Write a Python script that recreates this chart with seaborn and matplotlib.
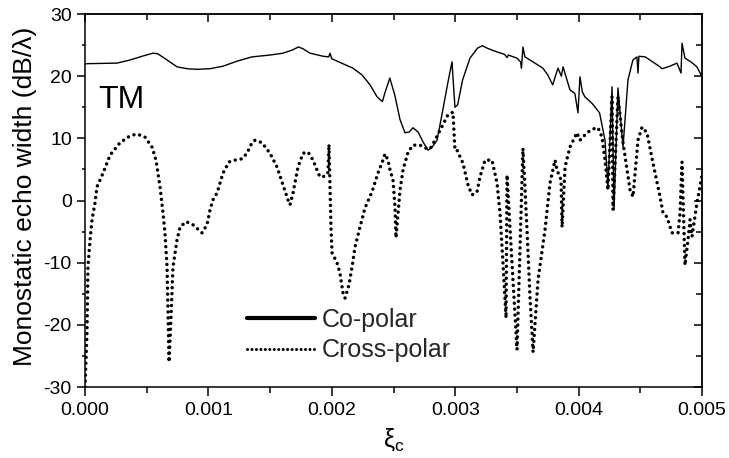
import matplotlib
matplotlib.use("Agg")
import matplotlib.pyplot as plt
import numpy as np
import pandas as pd
import seaborn as sns
from matplotlib.lines import Line2D
from matplotlib.ticker import MultipleLocator, FormatStrFormatter

# ---- data (xi_c, dB/lambda) ----
co_x = [0.0e-3, 0.26e-3, 0.365e-3, 0.462e-3, 0.551e-3, 0.59e-3, 0.665e-3, 0.746e-3,
        0.827e-3, 0.908e-3, 1.013e-3, 1.118e-3, 1.23e-3, 1.353e-3, 1.50e-3, 1.605e-3,
        1.68e-3, 1.73e-3, 1.767e-3, 1.823e-3, 1.93e-3, 1.975e-3, 1.985e-3, 2.00e-3,
        2.09e-3, 2.17e-3, 2.245e-3, 2.31e-3, 2.366e-3, 2.41e-3, 2.43e-3, 2.47e-3,
        2.51e-3, 2.553e-3, 2.593e-3, 2.626e-3, 2.658e-3, 2.70e-3, 2.74e-3, 2.78e-3,
        2.81e-3, 2.853e-3, 2.90e-3, 2.94e-3, 2.974e-3, 2.998e-3, 3.02e-3, 3.06e-3,
        3.12e-3, 3.18e-3, 3.22e-3, 3.26e-3, 3.31e-3, 3.40e-3, 3.42e-3, 3.43e-3,
        3.50e-3, 3.53e-3, 3.537e-3, 3.549e-3, 3.565e-3, 3.63e-3, 3.71e-3, 3.75e-3,
        3.79e-3, 3.82e-3, 3.833e-3, 3.86e-3, 3.874e-3, 3.93e-3, 3.97e-3, 3.995e-3,
        4.011e-3, 4.03e-3, 4.05e-3, 4.11e-3, 4.17e-3, 4.214e-3, 4.238e-3, 4.271e-3,
        4.287e-3, 4.319e-3, 4.36e-3, 4.40e-3, 4.44e-3, 4.473e-3, 4.481e-3, 4.489e-3,
        4.54e-3, 4.60e-3, 4.66e-3, 4.676e-3, 4.74e-3, 4.797e-3, 4.830e-3, 4.838e-3,
        4.862e-3, 4.91e-3, 4.959e-3, 5.0e-3]
co_y = [22.0, 22.1, 22.6, 23.2, 23.7, 23.6, 22.6, 21.5,
        21.2, 21.1, 21.2, 21.6, 22.4, 23.1, 23.4, 23.7,
        24.2, 24.7, 24.4, 23.7, 23.2, 23.1, 23.7, 22.8,
        22.0, 21.3, 20.2, 18.6, 16.7, 15.9, 17.3, 19.7,
        17.0, 13.0, 10.9, 11.0, 11.7, 11.0, 9.4, 8.1,
        8.5, 9.7, 14.6, 18.9, 22.3, 15.0, 15.4, 19.4,
        22.9, 24.5, 24.9, 24.5, 24.1, 23.5, 23.0, 23.4,
        22.9, 22.3, 21.3, 24.7, 23.1, 22.3, 21.3, 20.2,
        18.6, 20.5, 21.3, 20.0, 21.5, 17.8, 17.2, 14.1,
        19.9, 17.5, 16.7, 15.6, 14.1, 9.7, 2.2, 18.3,
        -1.5, 18.1, 8.6, 19.4, 22.6, 23.1, 20.5, 23.2,
        23.1, 22.3, 21.5, 21.2, 21.6, 22.1, 20.5, 25.3,
        22.9, 22.3, 21.5, 19.9]

cross_x = [0.0e-3, 0.016e-3, 0.024e-3, 0.041e-3, 0.057e-3, 0.081e-3, 0.097e-3, 0.146e-3,
           0.203e-3, 0.284e-3, 0.365e-3, 0.421e-3, 0.486e-3, 0.543e-3, 0.575e-3, 0.608e-3,
           0.632e-3, 0.648e-3, 0.665e-3, 0.673e-3, 0.681e-3, 0.697e-3, 0.713e-3, 0.746e-3,
           0.770e-3, 0.818e-3, 0.875e-3, 0.948e-3, 0.989e-3, 1.013e-3, 1.037e-3, 1.070e-3,
           1.118e-3, 1.167e-3, 1.216e-3, 1.272e-3, 1.313e-3, 1.353e-3, 1.378e-3, 1.434e-3,
           1.499e-3, 1.556e-3, 1.605e-3, 1.645e-3, 1.661e-3, 1.686e-3, 1.726e-3, 1.767e-3,
           1.807e-3, 1.848e-3, 1.880e-3, 1.904e-3, 1.945e-3, 1.969e-3, 1.977e-3, 1.994e-3,
           2.002e-3, 2.042e-3, 2.066e-3, 2.091e-3, 2.107e-3, 2.139e-3, 2.164e-3, 2.188e-3,
           2.228e-3, 2.269e-3, 2.326e-3, 2.374e-3, 2.415e-3, 2.431e-3, 2.455e-3, 2.472e-3,
           2.496e-3, 2.512e-3, 2.520e-3, 2.537e-3, 2.553e-3, 2.577e-3, 2.618e-3, 2.658e-3,
           2.715e-3, 2.755e-3, 2.796e-3, 2.836e-3, 2.877e-3, 2.942e-3, 2.982e-3, 2.998e-3,
           3.015e-3, 3.063e-3, 3.104e-3, 3.136e-3, 3.177e-3, 3.201e-3, 3.242e-3, 3.298e-3,
           3.339e-3, 3.363e-3, 3.387e-3, 3.412e-3, 3.420e-3, 3.460e-3, 3.501e-3, 3.549e-3,
           3.582e-3, 3.606e-3, 3.631e-3, 3.671e-3, 3.728e-3, 3.768e-3, 3.809e-3, 3.825e-3,
           3.858e-3, 3.866e-3, 3.890e-3, 3.930e-3, 3.987e-3, 4.011e-3, 4.068e-3, 4.117e-3,
           4.157e-3, 4.190e-3, 4.214e-3, 4.238e-3, 4.271e-3, 4.279e-3, 4.319e-3, 4.360e-3,
           4.417e-3, 4.441e-3, 4.481e-3, 4.514e-3, 4.554e-3, 4.603e-3, 4.660e-3, 4.684e-3,
           4.716e-3, 4.757e-3, 4.806e-3, 4.822e-3, 4.838e-3, 4.862e-3, 4.887e-3, 4.903e-3,
           4.919e-3, 4.959e-3, 5.0e-3]
cross_y = [-30.0, -21.3, -10.7, -6.3, -3.1, -0.4, 2.2, 4.4,
           7.3, 9.3, 10.4, 10.7, 10.2, 8.6, 6.5, 2.2,
           -2.0, -5.2, -10.7, -18.7, -26.0, -18.7, -10.7, -6.3,
           -4.3, -3.4, -3.9, -5.2, -3.9, -1.5, 0.1, 1.2,
           4.4, 6.2, 6.5, 6.7, 7.6, 9.3, 9.7, 9.3,
           7.6, 5.4, 2.5, 0.1, -0.7, 1.2, 5.4, 7.6,
           7.8, 6.5, 4.9, 3.8, 3.9, 4.5, 9.0, -4.7,
           -8.4, -10.0, -11.7, -14.9, -15.7, -13.6, -10.7, -7.5,
           -4.3, -1.2, 1.4, 4.4, 6.5, 7.5, 6.5, 4.9,
           3.3, -1.0, -6.0, -2.0, 1.7, 4.9, 7.8, 8.9,
           8.9, 8.45, 8.3, 9.7, 11.3, 13.8, 14.2, 8.1,
           8.1, 6.0, 2.5, 0.9, 1.4, 3.8, 6.5, 6.5,
           2.8, -2.0, -10.0, -18.9, 4.1, -10.0, -24.0, 8.4,
           -4.7, -15.5, -24.4, -12.8, -4.7, 2.8, 6.5, 4.9,
           3.3, -4.3, 5.4, 8.6, 10.9, 9.7, 10.9, 11.5,
           11.7, 10.2, 6.5, 1.7, 16.7, -1.5, 16.7, 9.3,
           1.7, 0.6, 9.7, 11.8, 10.9, 6.0, 0.6, -2.0,
           -2.65, -5.2, -5.2, -2.0, 6.2, -10.4, -6.3, -3.1,
           -5.8, -0.4, 4.0]

series_labels = ["Co-polar", "Cross-polar"]
x_ticks = [0.000, 0.001, 0.002, 0.003, 0.004, 0.005]
y_ticks = [-30, -20, -10, 0, 10, 20, 30]

sns.set_style("ticks")
plt.rcParams["font.family"] = ["Liberation Sans", "DejaVu Sans"]
plt.rcParams["mathtext.fontset"] = "custom"
plt.rcParams["mathtext.rm"] = "Liberation Sans"

W, H = 729, 458
fig = plt.figure(figsize=(W / 100, H / 100), dpi=100)
ax = fig.add_axes([85 / W, 1 - 387 / H, 617 / W, 373 / H])

df_co = pd.DataFrame({"xi": co_x, "width": co_y})
df_cross = pd.DataFrame({"xi": cross_x, "width": cross_y})

dot_style = (0, (0.01, 1.7))
sns.lineplot(data=df_co, x="xi", y="width", ax=ax, color="black", linewidth=1.0,
             estimator=None, sort=False)
sns.lineplot(data=df_cross, x="xi", y="width", ax=ax, color="black", linewidth=2.5,
             estimator=None, sort=False)
ax.lines[1].set_linestyle(dot_style)
ax.lines[1].set_dash_capstyle("round")

ax.set_xlim(0, 0.005)
ax.set_ylim(-30, 30)
ax.set_xticks(x_ticks)
ax.set_yticks(y_ticks)
ax.xaxis.set_minor_locator(MultipleLocator(0.0005))
ax.yaxis.set_minor_locator(MultipleLocator(5))
ax.xaxis.set_major_formatter(FormatStrFormatter("%.3f"))
ax.yaxis.set_major_formatter(FormatStrFormatter("%d"))

for sp in ax.spines.values():
    sp.set_linewidth(1.1)
    sp.set_color("black")

ax.tick_params(axis="both", which="both", direction="out", labelsize=14,
               width=1.1, color="black", labelcolor="black", pad=4)
ax.tick_params(axis="y", which="major", length=5.5)
ax.tick_params(axis="y", which="minor", length=2.5)
ax.tick_params(axis="x", which="major", length=6.5)
ax.tick_params(axis="x", which="minor", length=4.3)

secx = ax.secondary_xaxis("top")
secx.set_xticks(x_ticks)
secx.xaxis.set_minor_locator(MultipleLocator(0.0005))
secx.tick_params(axis="x", which="both", direction="in", labeltop=False, labelbottom=False,
                 width=1.1, color="black")
secx.tick_params(axis="x", which="major", length=6)
secx.tick_params(axis="x", which="minor", length=4.3)
secx.spines["top"].set_linewidth(1.1)

secy = ax.secondary_yaxis("right")
secy.set_yticks(y_ticks)
secy.yaxis.set_minor_locator(MultipleLocator(5))
secy.tick_params(axis="y", which="both", direction="in", labelright=False, labelleft=False,
                 width=1.1, color="black")
secy.tick_params(axis="y", which="major", length=6)
secy.tick_params(axis="y", which="minor", length=4)
secy.spines["right"].set_linewidth(1.1)

ax.set_xlabel("ξ$_{\\mathregular{c}}$", fontsize=18, color="black")
ax.set_ylabel("Monostatic echo width (dB/λ)", fontsize=19, color="black")
ax.xaxis.set_label_coords(0.5, -0.105)
ax.yaxis.set_label_coords(-0.078, 0.51)

fig.text(98 / W, 1 - 108 / H, "TM", fontsize=23, ha="left", va="baseline", color="black")

handles = [Line2D([], [], color="black", linewidth=3.0),
           Line2D([], [], color="black", linewidth=2.2, linestyle=(0, (0.01, 1.45)),
                  dash_capstyle="round")]
leg = ax.legend(handles, series_labels, loc="upper left",
                bbox_to_anchor=(247 / W, 1 - 308 / H), bbox_transform=fig.transFigure,
                frameon=False, fontsize=18, handlelength=2.72, handletextpad=0.28,
                labelspacing=0.25, borderpad=0, borderaxespad=0)

fig.savefig("out.png", dpi=100)
